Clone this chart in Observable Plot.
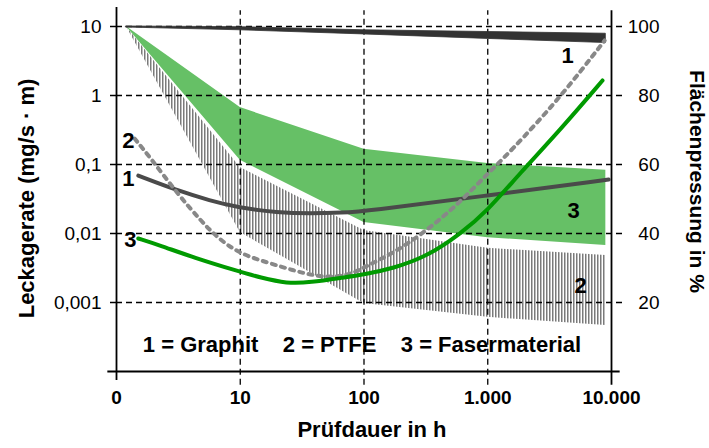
<!DOCTYPE html>
<html>
<head>
<meta charset="utf-8">
<script src="https://cdn.jsdelivr.net/npm/d3@7"></script>
<script src="https://cdn.jsdelivr.net/npm/@observablehq/plot@0.6"></script>
<style>
  html, body { margin: 0; padding: 0; background: #fff; overflow: hidden; }
  svg { font-family: "Liberation Sans", Arial, sans-serif; }
</style>
</head>
<body>
<div id="chart"></div>
<script>
// ---- axis ticks and labels ----
const hourTicks = [1, 10, 100, 1000, 10000];
const hourLabels = ["0", "10", "100", "1.000", "10.000"];
const leakTicks = [10, 1, 0.1, 0.01, 0.001];
const leakLabels = ["10", "1", "0,1", "0,01", "0,001"];
const pressTicks = [100, 80, 60, 40, 20];
const pressLabels = ["100", "80", "60", "40", "20"];

// ---- Flächenpressung bands (percent, right axis) ----
const bandHours = [1.2, 10, 100, 1000, 9000];
const graphitPressHi = [100, 99.8, 98.9, 98.4, 97.9];
const graphitPressLo = [99.7, 98.9, 97.7, 96.4, 95.2];
const ptfePressHi = [100, 59.1, 40.9, 35.7, 33.6];
const ptfePressLo = [100, 40.3, 19.7, 15.7, 13.3];
const fiberPressHi = [100, 76.5, 64.4, 60.3, 58.3];
const fiberPressLo = [100, 61.2, 43.2, 38.8, 36.5];

// ---- Leckagerate lines (mg/s·m, left axis) ----
const graphitHours = [1.5, 3.1, 5.7, 9.6, 20, 37, 68, 100, 1000, 9500];
const graphitLeak = [0.069, 0.042, 0.030, 0.0238, 0.0201, 0.0195, 0.0201, 0.0209, 0.0356, 0.0606];
const ptfeHours = [1.4, 1.9, 3.1, 4.8, 6.5, 9.8, 16.5, 27, 39, 56, 82, 106, 171, 322, 594, 1000, 1500, 3800, 8800];
const ptfeLeak = [0.238, 0.122, 0.038, 0.0154, 0.00875, 0.00513, 0.0038, 0.00291, 0.00246, 0.0023, 0.00263, 0.00344, 0.00513, 0.011, 0.0281, 0.0741, 0.149, 0.906, 6.27];
const fiberHours = [1.5, 2.26, 4.18, 9.8, 14.5, 23.9, 36.7, 67.7, 100, 171, 322, 594, 1000, 1811, 3808, 8459];
const fiberLeak = [0.00847, 0.0067, 0.00449, 0.00281, 0.0023, 0.00188, 0.00195, 0.0023, 0.00255, 0.00311, 0.00464, 0.00969, 0.0215, 0.0741, 0.311, 1.65];

// ---- curve number labels ----
const leftLabelText = ["1", "2", "3"];
const leftLabelHours = [1.4, 1.4, 1.45];
const leftLabelLeak = [0.0627, 0.223, 0.00793];
const rightLabelText = ["1", "3", "2"];
const rightLabelHours = [4416, 4940, 5623];
const rightLabelLeak = [3.8, 0.0209, 0.00176];

const legendText = "1 = Graphit\u00a0\u00a0\u00a0 2 = PTFE\u00a0\u00a0\u00a0 3 = Fasermaterial";
const xTitle = "Prüfdauer in h";
const yTitle = "Leckagerate (mg/s · m)";
const y2Title = "Flächenpressung in %";

// right axis (linear %) mapped onto the left log scale: 100 % ↔ 10, 20 % ↔ 0,001
const toLeak = p => 10 ** (p / 20 - 4);

const band = (hi, lo) => bandHours.map((h, i) => ({h, hi: toLeak(hi[i]), lo: toLeak(lo[i])}));
const line = (hs, vs) => hs.map((h, i) => ({h, v: vs[i]}));

const graphitBand = band(graphitPressHi, graphitPressLo);
const ptfeBand = band(ptfePressHi, ptfePressLo);
const fiberBand = band(fiberPressHi, fiberPressLo);
const graphitLine = line(graphitHours, graphitLeak);
const ptfeLine = line(ptfeHours, ptfeLeak);
const fiberLine = line(fiberHours, fiberLeak);
const leftLabels = leftLabelText.map((t, i) => ({t, h: leftLabelHours[i], v: leftLabelLeak[i]}));
const rightLabels = rightLabelText.map((t, i) => ({t, h: rightLabelHours[i], v: rightLabelLeak[i]}));

const dash = "6,4";
const chart = Plot.plot({
  width: 709,
  height: 448,
  marginLeft: 116,
  marginRight: 98,
  marginTop: 7,
  marginBottom: 77,
  style: {fontFamily: "'Liberation Sans', Arial, sans-serif", background: "#fff", color: "#000", overflow: "visible"},
  x: {type: "log", domain: [1, 10000]},
  y: {type: "log", domain: [1e-4, 10 ** (364 / 69 - 4)]},
  marks: [
    // bands
    Plot.areaY(ptfeBand, {x: "h", y1: "lo", y2: "hi", fill: "url(#hatch)"}),
    Plot.areaY(fiberBand, {x: "h", y1: "lo", y2: "hi", fill: "#66c066"}),
    // grid
    Plot.ruleY(leakTicks, {x1: 1, x2: 10 ** 4.09, stroke: "#000", strokeWidth: 1.3, strokeDasharray: dash}),
    Plot.ruleX([10, 100, 1000], {y1: 10 ** -4.2, y2: 10 ** 1.23, stroke: "#000", strokeWidth: 1.3, strokeDasharray: dash}),
    // graphite pressure band
    Plot.areaY(graphitBand, {x: "h", y1: "lo", y2: "hi", fill: "#333333", stroke: "#333333", strokeWidth: 0.8}),
    // axis lines
    Plot.ruleX([1], {y1: 10 ** -4.13, y2: 10 ** 1.2754, stroke: "#000", strokeWidth: 1.8}),
    Plot.ruleX([10000], {y1: 10 ** -4.2, y2: 10 ** 1.23, stroke: "#000", strokeWidth: 1.8}),
    Plot.ruleY([1e-4], {x1: 10 ** -0.07, x2: 10 ** 4.07, stroke: "#000", strokeWidth: 1.8}),
    // leak-rate lines
    Plot.line(graphitLine, {x: "h", y: "v", stroke: "#4a4a4a", strokeWidth: 4, curve: "basis"}),
    Plot.line(ptfeLine, {x: "h", y: "v", stroke: "#888888", strokeWidth: 4, strokeDasharray: "4,5.5", curve: "basis"}),
    Plot.line(fiberLine, {x: "h", y: "v", stroke: "#009a00", strokeWidth: 4, curve: "basis"}),
    // axes
    Plot.axisY({anchor: "left", ticks: leakTicks, tickFormat: d => leakLabels[leakTicks.indexOf(d)], tickSize: 6, tickPadding: 9, strokeWidth: 1.5, fontSize: 19, label: null}),
    Plot.axisY({anchor: "right", ticks: pressTicks.map(toLeak), tickFormat: d => pressLabels[leakTicks.indexOf(d)], tickSize: 0, tickPadding: 0, dx: 48, textAnchor: "end", fontSize: 19, label: null}),
    Plot.axisX({ticks: hourTicks, tickFormat: d => hourLabels[hourTicks.indexOf(d)], tickSize: 0, tickPadding: 19, fontSize: 19, fontWeight: "bold", label: null}),
    // curve numbers
    Plot.text(leftLabels, {x: "h", y: "v", text: "t", textAnchor: "end", fontSize: 22, fontWeight: "bold"}),
    Plot.text(rightLabels, {x: "h", y: "v", text: "t", fontSize: 22, fontWeight: "bold"}),
    // legend & titles
    Plot.text([legendText], {frameAnchor: "bottom", textAnchor: "middle", text: d => d, dx: -2, dy: -20, fontSize: 22, fontWeight: "bold"}),
    Plot.text([xTitle], {frameAnchor: "bottom", textAnchor: "middle", text: d => d, dx: 8, dy: 65, fontSize: 22, fontWeight: "bold"}),
    Plot.text([yTitle], {frameAnchor: "left", textAnchor: "middle", text: d => d, rotate: -90, dx: -90, dy: 9, fontSize: 22, fontWeight: "bold"}),
    Plot.text([y2Title], {frameAnchor: "right", textAnchor: "middle", text: d => d, rotate: 90, dx: 85, dy: -8, fontSize: 21, fontWeight: "bold"})
  ]
});

// vertical hatch pattern for the PTFE band
const defs = d3.select(chart).insert("defs", ":first-child");
const pat = defs.append("pattern").attr("id", "hatch").attr("patternUnits", "userSpaceOnUse").attr("width", 3).attr("height", 10);
pat.append("rect").attr("width", 3).attr("height", 10).attr("fill", "#fff");
pat.append("rect").attr("width", 1.5).attr("height", 10).attr("fill", "#7a7a7a");

document.getElementById("chart").appendChild(chart);
</script>
</body>
</html>
